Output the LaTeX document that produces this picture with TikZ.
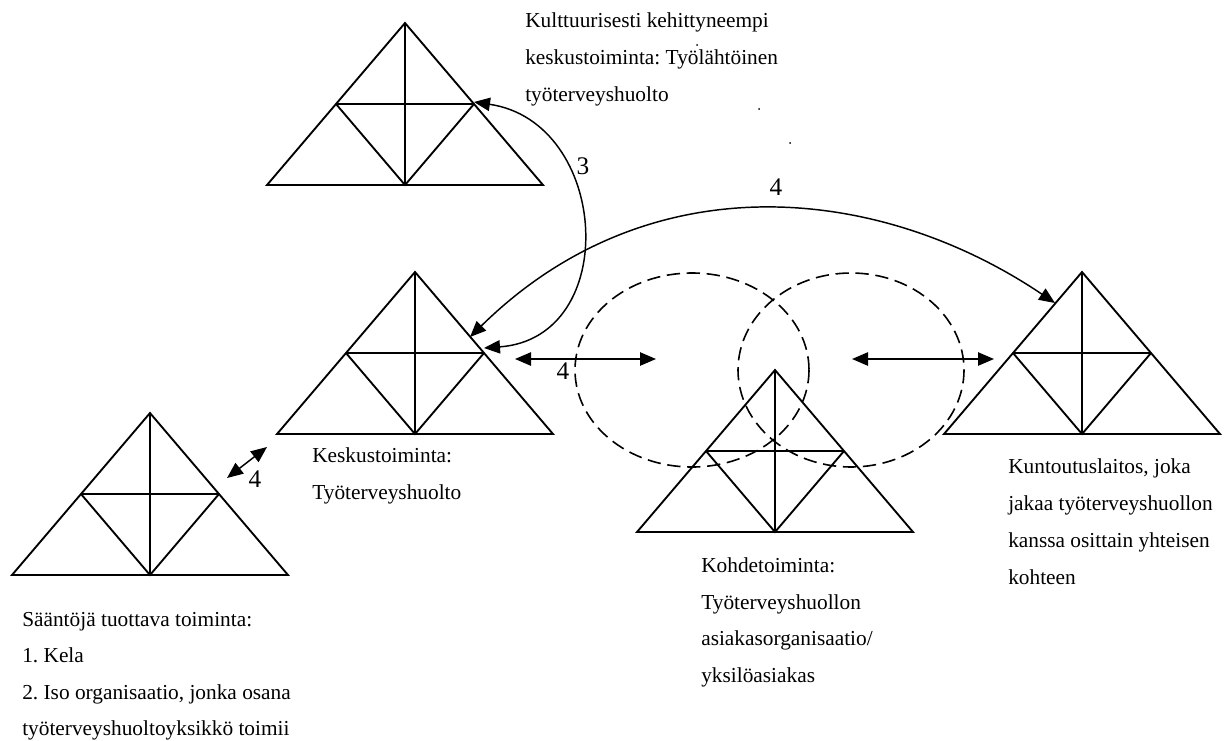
\documentclass[tikz,border=0pt]{standalone}
\usepackage{fontspec}
\setmainfont{Liberation Serif}
\usetikzlibrary{arrows.meta}
\frenchspacing
\begin{document}
\begin{tikzpicture}[x=0.75pt,y=-0.75pt,
  tri/.style={line width=1.4pt, line join=miter},
  conn/.style={line width=1.1pt, {Triangle[length=12pt,width=10pt]}-{Triangle[length=12pt,width=10pt]}},
  dashell/.style={line width=1.2pt, dash pattern=on 10pt off 5pt},
  txt/.style={anchor=base west, inner sep=0pt, font=\fontsize{16pt}{18pt}\selectfont},
  num/.style={anchor=base, inner sep=0pt, font=\fontsize{19pt}{21pt}\selectfont},
  actri/.pic={
    \draw[tri] (-138,0) coordinate (-bl) -- (0,-162) coordinate (-apex) -- (138,0) coordinate (-br) -- cycle;
    \draw[tri] (0,-162) -- (0,0) coordinate (-bm);
    \draw[tri] (-69,-81) coordinate (-ml) -- (69,-81) coordinate (-mr);
    \draw[tri] (-69,-81) -- (0,0) -- (69,-81);
  }]
\useasboundingbox (0,0) rectangle (1226,740);

% activity triangles
\pic (t1) at (405,185) {actri};
\pic (t2) at (415,434) {actri};
\pic (t3) at (150,575) {actri};
\pic (t4) at (775,532) {actri};
\pic (t5) at (1082,434) {actri};

% dashed object ellipses
\draw[dashell] (692,370) ellipse [x radius=117, y radius=97];
\draw[dashell] (851,370) ellipse [x radius=113, y radius=97];

% connector end points
\coordinate (c3a) at (474,102);
\coordinate (c3b) at (484,348);
\coordinate (c4a) at (470,337);
\coordinate (c4b) at (1055,303);
\coordinate (h1a) at (515,359);
\coordinate (h1b) at (656,359);
\coordinate (h2a) at (852,359);
\coordinate (h2b) at (994,359);
\coordinate (d1a) at (227,478);
\coordinate (d1b) at (267,447);

% curved connectors
\draw[conn] (c3a) .. controls (610,122) and (622,338) .. (c3b);
\draw[conn] (c4a) .. controls (650,160) and (880,185) .. (c4b);

% straight double arrows
\draw[conn] (h1a) -- (h1b);
\draw[conn] (h2a) -- (h2b);
\draw[conn] (d1a) -- (d1b);

% numbers
\node[num] (n3) at (583,174) {3};
\node[num] (n4a) at (776,195) {4};
\node[num] (n4b) at (563,379) {4};
\node[num] (n4c) at (255,487) {4};

% stray dots
\fill (697,45) circle [radius=1];
\fill (759,109) circle [radius=1];
\fill (790,143) circle [radius=1];

% texts
\node[txt] (a1) at (525,27) {Kulttuurisesti kehittyneempi};
\node[txt] (a2) at (525,64) {keskustoiminta: Työlähtöinen};
\node[txt] (a3) at (525,101) {työterveyshuolto};

\node[txt] (b1) at (312,462) {Keskustoiminta:};
\node[txt] (b2) at (312,499) {Työterveyshuolto};

\node[txt] (c1) at (22,626) {Sääntöjä tuottava toiminta:};
\node[txt] (c2) at (22,662.5) {1. Kela};
\node[txt] (c3) at (22,699) {2. Iso organisaatio, jonka osana};
\node[txt] (c4) at (22,735) {työterveyshuoltoyksikkö toimii};

\node[txt] (d1) at (701,572) {Kohdetoiminta:};
\node[txt] (d2) at (701,609) {Työterveyshuollon};
\node[txt] (d3) at (701,645.5) {asiakasorganisaatio/};
\node[txt] (d4) at (701,682) {yksilöasiakas};

\node[txt] (e1) at (1008,473) {Kuntoutuslaitos, joka};
\node[txt] (e2) at (1008,510) {jakaa työterveyshuollon};
\node[txt] (e3) at (1008,547) {kanssa osittain yhteisen};
\node[txt] (e4) at (1008,584) {kohteen};
\end{tikzpicture}
\end{document}
